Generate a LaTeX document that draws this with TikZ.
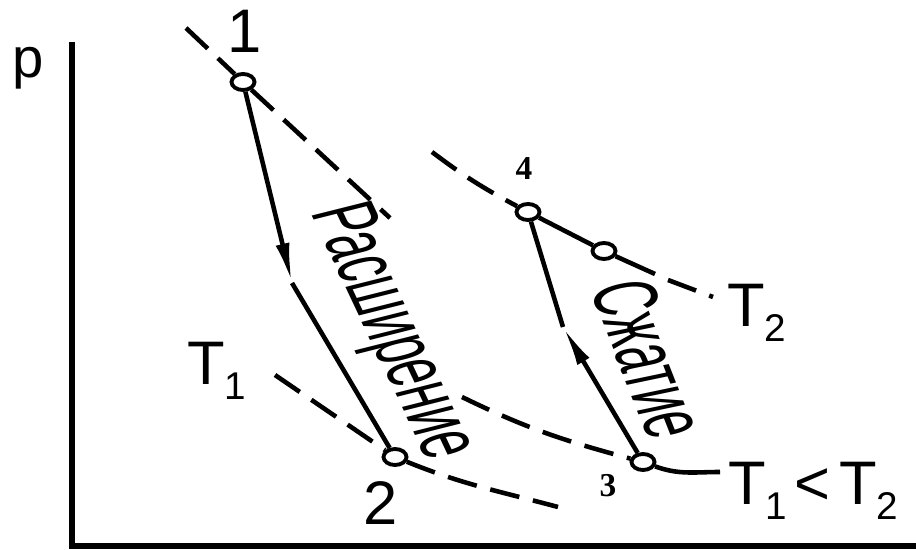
\documentclass[tikz,border=0pt]{standalone}
\usepackage{fontspec}
\setmainfont{Liberation Sans}
\newfontfamily\numfont{Liberation Serif}
\usetikzlibrary{positioning,shapes.geometric,arrows.meta}
\newcommand{\lowidx}[1]{\raisebox{-8.5pt}{\fontsize{22}{24}\selectfont #1}}
\tikzset{
  ptnode/.style={ellipse,draw=black,fill=white,line width=2.2pt,
    minimum width=0.46cm,minimum height=0.32cm,inner sep=0pt},
  isoline/.style={line width=2.6pt,dash pattern=on 0.6cm off 0.28cm},
  procline/.style={line width=2.6pt},
  axisline/.style={line width=3.4pt},
  headarrow/.style={-{Latex[length=0.8cm,width=0.28cm]}},
  lbl/.style={inner sep=0pt,font=\fontsize{35}{40}\selectfont},
  smlbl/.style={inner sep=0pt,font=\fontsize{19}{22}\selectfont\numfont\bfseries},
  wordlbl/.style={inner sep=0pt,font=\fontsize{38}{44}\selectfont,transform shape},
}
\begin{document}
\begin{tikzpicture}[x=0.02cm,y=0.02cm]
  \useasboundingbox (0,0) rectangle (916,550);
  \coordinate (ytop) at (72,508);
  \coordinate (orig) at (72,4);
  \coordinate (xend) at (916,4);
  \draw[axisline] (ytop) -- (orig) -- (xend);
  \node[ptnode] (pt1) at (243,468) {};
  \node[ptnode] (pt2) at (395,93) {};
  \node[ptnode] (pt3) at (643,88) {};
  \node[ptnode] (pt4) at (528,338) {};
  \node[ptnode] (pt5) at (604,299) {};
  \coordinate (iso1a) at (186,522);
  \coordinate (iso1b) at (390,332);
  \draw[isoline] (iso1a) -- (pt1) -- (iso1b);
  \coordinate (t1a) at (275,175);
  \coordinate (t1b) at (558,43);
  \draw[isoline] (t1a) -- (pt2) to[out=-22,in=165] (t1b);
  \coordinate (t12a) at (462,153);
  \coordinate (t12b) at (720,78);
  \draw[isoline] (t12a) to[out=-26,in=165] (pt3);
  \draw[procline] (pt3) to[out=-20,in=180] (t12b);
  \coordinate (t2a) at (432,398);
  \coordinate (t2b) at (655,276);
  \coordinate (t2c) at (668,270);
  \coordinate (t2d) at (713,253);
  \draw[isoline] (t2a) to[out=-37,in=152] (pt4);
  \draw[procline] (pt4) -- (pt5) -- (t2b);
  \draw[isoline] (t2c) -- (t2d);
  \coordinate (k12) at (292,267);
  \draw[procline,headarrow] (pt1) -- (k12);
  \draw[procline] (k12) -- (pt2);
  \coordinate (k34) at (563,223);
  \draw[procline,headarrow] (pt3) -- (k34);
  \draw[procline] (k34) -- (pt4);
  \node[lbl,font=\fontsize{32}{36}\selectfont,anchor=base] (lblp) at (28,472) {p};
  \node[lbl,anchor=base] (lbl1) at (245,497) {1};
  \node[lbl,anchor=base] (lbl2) at (381,25) {2};
  \node[smlbl,anchor=base] (lbl3) at (608,53) {3};
  \node[smlbl,anchor=base] (lbl4) at (524,370) {4};
  \node[lbl,anchor=base west] (lblt1) at (187,165) {T\lowidx{1}};
  \node[lbl,anchor=base west] (lblt2) at (727,223) {T\lowidx{2}};
  \node[lbl,anchor=base west] (lblt12) at (728,45) {T\lowidx{1}\hspace{4pt}<\hspace{5pt}T\lowidx{2}};
  \begin{scope}[shift={(390,218)},xscale=1.37]
    \node[wordlbl,rotate=-71] (wexp) at (0,0) {\scalebox{0.68}[1]{Расширение}};
  \end{scope}
  \begin{scope}[shift={(650,191)},xscale=1.37]
    \node[wordlbl,rotate=-74] (wcomp) at (0,0) {\scalebox{0.68}[1]{Сжатие}};
  \end{scope}
\end{tikzpicture}
\end{document}
